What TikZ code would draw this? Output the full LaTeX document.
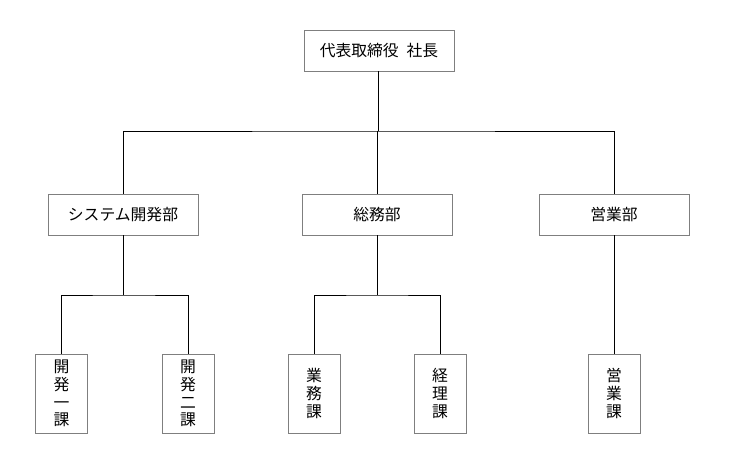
\documentclass[tikz,border=0pt]{standalone}
\usepackage{fontspec}
\setmainfont{Noto Sans CJK JP}
\usetikzlibrary{positioning}
\definecolor{boxgray}{HTML}{7F7F7F}

\begin{document}
\begin{tikzpicture}[
  x=1pt, y=-1pt,
  every node/.style={font=\fontsize{15.8}{17.8}\selectfont},
  unit/.style={rectangle, draw=boxgray, line width=0.8pt, fill=white, minimum width=150pt, minimum height=41pt, inner sep=0pt},
  section/.style={rectangle, draw=boxgray, line width=0.8pt, fill=white, minimum width=52pt, minimum height=79pt, inner sep=0pt, align=center},
  link/.style={draw=black, line width=0.8pt},
]
\useasboundingbox (0,0) rectangle (746,457);

% President
\node[unit] (ceo) at (379, 50.5) {代表取締役\hspace{0.5em}社長};

% Departments
\node[unit] (sysdev) at (123, 214.5) {システム開発部};
\node[unit] (general) at (377, 214.5) {総務部};
\node[unit] (sales) at (614, 214.5) {営業部};

% Sections
\node[section] (dev1) at (61.5, 393.5) {開\\発\\一\\課};
\node[section] (dev2) at (188, 393.5) {開\\発\\二\\課};
\node[section] (biz) at (314, 393.5) {業\\務\\課};
\node[section] (acct) at (440, 393.5) {経\\理\\課};
\node[section] (salessec) at (614, 393.5) {営\\業\\課};

% Junctions
\coordinate (jtop) at (378, 131);
\coordinate (jdev) at (123, 295);
\coordinate (jgen) at (377, 295);

% Links
\draw[link] (ceo.south -| jtop) -- (jtop);
\draw[link] (sysdev.north) |- (jtop) -| (sales.north);
\draw[link] (general.north) -- (general.north |- jtop);
\draw[link] (sysdev.south) -- (jdev);
\draw[link] (dev1.north) |- (jdev) -| (dev2.north);
\draw[link] (general.south) -- (jgen);
\draw[link] (biz.north) |- (jgen) -| (acct.north);
\draw[link] (sales.south) -- (salessec.north);

\end{tikzpicture}
\end{document}
